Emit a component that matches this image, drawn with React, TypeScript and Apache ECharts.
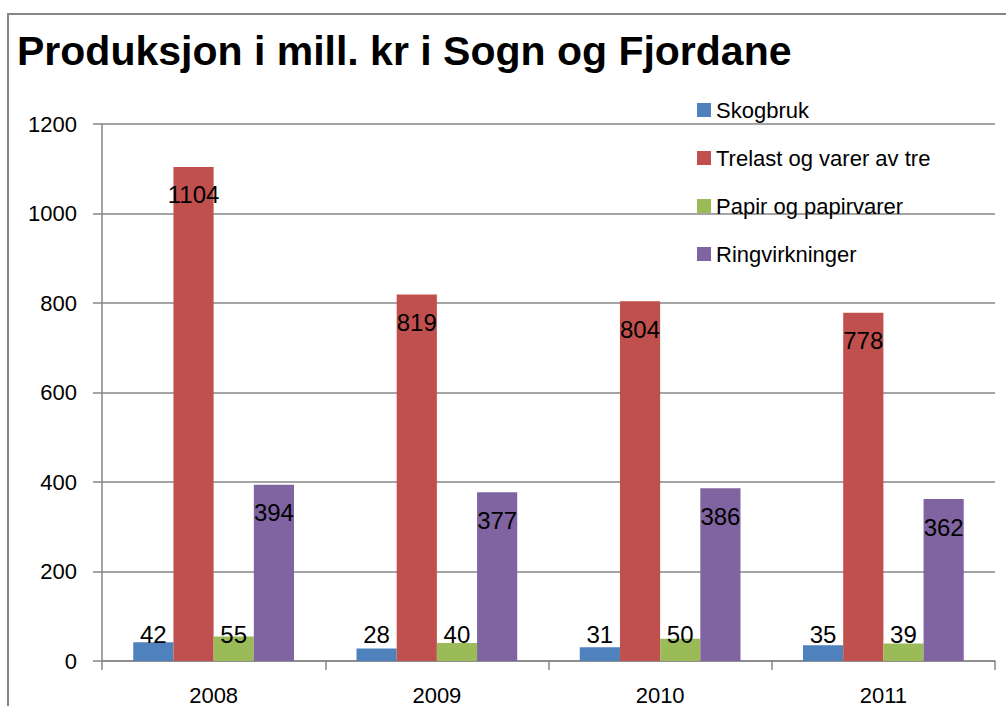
import React, { useEffect, useRef } from "react";
import * as echarts from "echarts";

const categories = ["2008", "2009", "2010", "2011"];
const seriesNames = ["Skogbruk", "Trelast og varer av tre", "Papir og papirvarer", "Ringvirkninger"];
const skogbruk = [42, 28, 31, 35];
const trelast = [1104, 819, 804, 778];
const papir = [55, 40, 50, 39];
const ringvirkninger = [394, 377, 386, 362];
const colors = ["#4F81BD", "#C0504D", "#9BBB59", "#8064A2"];
const titleText = "Produksjon i mill. kr i Sogn og Fjordane";

const FONT = "'Liberation Sans', Arial, sans-serif";

function makeData(values: number[]) {
  return values.map((v) => ({
    value: v,
    label:
      v < 100
        ? { position: "insideBottom", distance: 15 }
        : { position: "insideTop", distance: 16 },
  }));
}

export default function App() {
  const ref = useRef<HTMLDivElement>(null);
  useEffect(() => {
    if (!ref.current) return;
    const chart = echarts.init(ref.current, null, { renderer: "svg" });
    const allSeries = [skogbruk, trelast, papir, ringvirkninger];
    chart.setOption({
      animation: false,
      backgroundColor: "#ffffff",
      graphic: [
        {
          type: "rect",
          shape: { x: 8, y: 14, width: 1200, height: 900 },
          style: { fill: "none", stroke: "#868686", lineWidth: 2 },
          silent: true,
        },
        {
          type: "text",
          left: 17,
          top: 30,
          style: {
            text: titleText,
            font: "bold 41px 'Liberation Sans', Arial, sans-serif",
            fill: "#000000",
          },
        },
      ],
      legend: {
        orient: "vertical",
        left: 692,
        top: 94,
        itemWidth: 14,
        itemHeight: 14,
        itemGap: 26,
        icon: "rect",
        data: seriesNames,
        textStyle: { fontFamily: FONT, fontSize: 22, color: "#000" },
      },
      grid: { left: 102, top: 124, right: 11, bottom: 43, containLabel: false },
      xAxis: {
        type: "category",
        data: categories,
        axisLine: { lineStyle: { color: "#868686", width: 1.5 } },
        axisTick: { show: true, length: 9, lineStyle: { color: "#868686", width: 1.5 } },
        axisLabel: { fontFamily: FONT, fontSize: 22, color: "#000", margin: 23 },
      },
      yAxis: {
        type: "value",
        min: 0,
        max: 1200,
        interval: 200,
        axisLine: { show: true, lineStyle: { color: "#868686", width: 1.5 } },
        axisTick: { show: true, length: 9, lineStyle: { color: "#868686", width: 1.5 } },
        splitLine: { lineStyle: { color: "#868686", width: 1.5 } },
        axisLabel: {
          fontFamily: FONT,
          fontSize: 22,
          color: "#000",
          margin: 25,
          formatter: (v: number) => String(v),
        },
      },
      series: allSeries.map((vals, i) => ({
        name: seriesNames[i],
        type: "bar",
        data: makeData(vals),
        itemStyle: { color: colors[i] },
        barGap: "0%",
        barCategoryGap: "28%",
        label: {
          show: true,
          fontFamily: FONT,
          fontSize: 24,
          color: "#000",
        },
      })),
    });
    return () => chart.dispose();
  }, []);
  return <div ref={ref} style={{ width: 1006, height: 706, position: "absolute", left: 0, top: 0 }} />;
}
